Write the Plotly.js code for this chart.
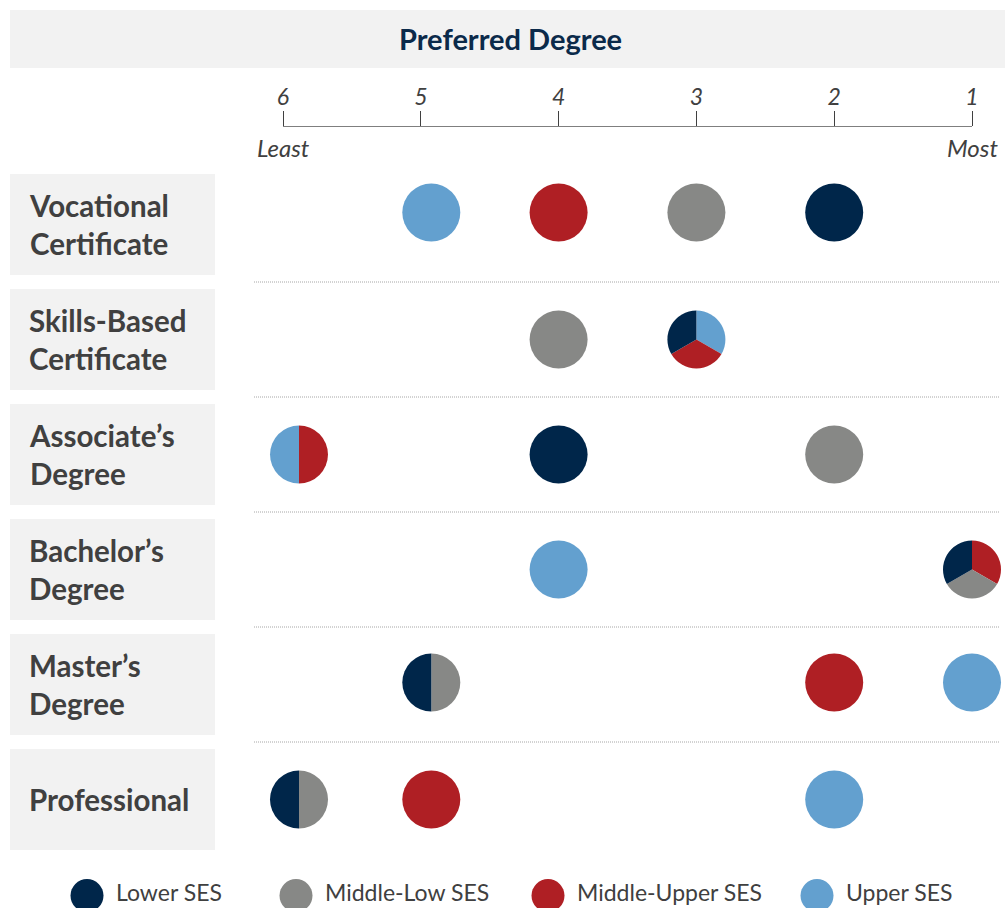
<!DOCTYPE html>
<html>
<head>
<meta charset="utf-8">
<script src="https://cdn.plot.ly/plotly-3.0.1.min.js"></script>
<style>
  html, body { margin: 0; padding: 0; background: #ffffff; }
  #chart { width: 1005px; height: 908px; }
</style>
</head>
<body>
<div id="chart"></div>
<script>
// ---------------- DATA ----------------
const degreeLabels = ["Vocational<br>Certificate", "Skills-Based<br>Certificate", "Associate’s<br>Degree",
                      "Bachelor’s<br>Degree", "Master’s<br>Degree", "Professional"];
const groupNames = ["Lower SES", "Middle-Low SES", "Middle-Upper SES", "Upper SES"];
// preference rank of each degree (1 = most preferred, 6 = least) for every SES group
const lowerSesRanks       = [2, 3, 4, 1, 5, 6];
const middleLowSesRanks   = [3, 4, 2, 1, 5, 6];
const middleUpperSesRanks = [4, 3, 6, 1, 2, 5];
const upperSesRanks       = [5, 3, 6, 4, 1, 2];
const tickValues = [6, 5, 4, 3, 2, 1];
const tickLabels = ["6", "5", "4", "3", "2", "1"];
const axisEndLabels = ["Least", "Most"];
const chartTitle = "Preferred Degree";

// ---------------- STYLE / LAYOUT CONSTANTS ----------------
const groupColors = ["#00264A", "#878886", "#AF1F24", "#63A0CF"];
const W = 1005, H = 908;
const AX_L = 283, AX_R = 972, AX_Y = 125.5;
const ROW0 = 224.5, ROW_STEP = 115;
const DOT = 58;                       // circle diameter, px
const PX_PER_RANK = (AX_R - AX_L) / 5;
const rankNudgePx = {6: 16, 5: 10.5}; // circles in the two leftmost columns sit a little to the right
const rowShiftPx = [-12, 0, 0, 0, -2, 0];
const keepOrderRows = [2];            // slice order as listed; other rows list slices reversed
const legendX = [87, 296, 548, 817];
const FONT = "Lato, 'Open Sans', sans-serif";
const TEXT = "#404040";

const allRanks = [lowerSesRanks, middleLowSesRanks, middleUpperSesRanks, upperSesRanks];
const xPos = r => r - (rankNudgePx[r] || 0) / PX_PER_RANK;
const yPos = i => i + rowShiftPx[i] / ROW_STEP;
const yRange = [(H - ROW0) / ROW_STEP, -ROW0 / ROW_STEP];
const xPaper = v => (AX_L + (6 - v) * PX_PER_RANK) / W;
const yPaper = v => 1 - (ROW0 + v * ROW_STEP) / H;

// ---------------- TRACES ----------------
const traces = [];
const single = groupNames.map(() => ({x: [], y: []}));
const pies = [];
degreeLabels.forEach((d, i) => {
  [1, 2, 3, 4, 5, 6].forEach(r => {
    const members = [];
    allRanks.forEach((arr, g) => { if (arr[i] === r) members.push(g); });
    if (members.length === 1) {
      single[members[0]].x.push(xPos(r));
      single[members[0]].y.push(yPos(i));
    } else if (members.length > 1) {
      pies.push({row: i, rank: r, members: keepOrderRows.includes(i) ? members : members.slice().reverse()});
    }
  });
});

groupNames.forEach((g, k) => {
  traces.push({
    type: "scatter", mode: "markers", name: g,
    x: single[k].x, y: single[k].y, xaxis: "x", yaxis: "y",
    cliponaxis: false, hoverinfo: "skip", showlegend: false,
    marker: {size: DOT, color: groupColors[k], line: {width: 0}}
  });
});

pies.forEach(p => {
  const cx = xPaper(xPos(p.rank)), cy = yPaper(yPos(p.row));
  const hw = DOT / 2 / W, hh = DOT / 2 / H;
  traces.push({
    type: "pie", values: p.members.map(() => 1), labels: p.members.map(m => groupNames[m]),
    sort: false, direction: "clockwise",
    rotation: 0, textinfo: "none", hoverinfo: "skip", showlegend: false,
    marker: {colors: p.members.map(m => groupColors[m]), line: {width: 0}},
    domain: {x: [cx - hw, cx + hw], y: [cy - hh, cy + hh]}
  });
});

// legend (drawn in a pixel-space overlay axis)
traces.push({
  type: "scatter", mode: "markers", x: legendX, y: groupNames.map(() => 895.6),
  xaxis: "x2", yaxis: "y2", cliponaxis: false, hoverinfo: "skip", showlegend: false,
  marker: {size: 33, color: groupColors, line: {width: 0}}
});

// ---------------- SHAPES & ANNOTATIONS ----------------
const shapes = [];
shapes.push({type: "rect", xref: "paper", yref: "paper", x0: 10 / W, x1: 1, y0: 1 - 68 / H, y1: 1 - 10 / H,
             fillcolor: "#F2F2F2", line: {width: 0}, layer: "below"});
degreeLabels.forEach((d, i) => {
  shapes.push({type: "rect", xref: "paper", yref: "y", x0: 10 / W, x1: 215 / W,
               y0: i - 50.5 / ROW_STEP, y1: i + 50.5 / ROW_STEP,
               fillcolor: "#F2F2F2", line: {width: 0}, layer: "below"});
  if (i < degreeLabels.length - 1) {
    shapes.push({type: "line", xref: "paper", yref: "y", x0: 254 / W, x1: 1000 / W, y0: i + 0.5, y1: i + 0.5,
                 line: {color: "#A6A6A6", width: 1, dash: "1px,1px"}, layer: "below"});
  }
});

const annotations = [];
annotations.push({text: chartTitle, xref: "paper", yref: "paper", x: 510 / W, y: 1 - 39 / H,
                  showarrow: false, xanchor: "center", yanchor: "middle",
                  font: {family: FONT, size: 29, weight: 700, color: "#0B2A4A"}});
degreeLabels.forEach((d, i) => {
  annotations.push({text: d, xref: "paper", yref: "y", x: 27 / W, y: i, showarrow: false,
                    xanchor: "left", yanchor: "middle", align: "left",
                    font: {family: FONT, size: 29.5, weight: 700, color: TEXT}});
});
[6, 1].forEach((v, k) => {
  annotations.push({text: axisEndLabels[k], xref: "x", yref: "paper", x: v, y: 1 - 148 / H,
                    showarrow: false, xanchor: "center", yanchor: "middle",
                    font: {family: FONT, size: 24, style: "italic", color: TEXT}});
});
groupNames.forEach((g, k) => {
  annotations.push({text: g, xref: "x2", yref: "y2", x: legendX[k] + 27, y: 908, showarrow: false,
                    xanchor: "left", yanchor: "bottom",
                    font: {family: FONT, size: 23, color: TEXT}});
});

const layout = {
  width: W, height: H, margin: {l: 0, r: 0, t: 0, b: 0},
  paper_bgcolor: "#ffffff", plot_bgcolor: "rgba(0,0,0,0)", showlegend: false,
  xaxis: {domain: [AX_L / W, AX_R / W], range: [6, 1], anchor: "free", position: 1 - AX_Y / H,
          side: "top", showline: true, linecolor: "#7F7F7F", linewidth: 1.5,
          ticks: "outside", ticklen: 15, tickwidth: 1, tickcolor: "#404040",
          tickvals: tickValues, ticktext: tickLabels, ticklabelstandoff: -4,
          tickfont: {family: FONT, size: 23, style: "italic", color: TEXT},
          showgrid: false, zeroline: false, fixedrange: true},
  yaxis: {domain: [0, 1], range: yRange, visible: false, fixedrange: true},
  xaxis2: {domain: [0, 1], range: [0, W], anchor: "y2", visible: false, fixedrange: true},
  yaxis2: {domain: [0, 1], range: [H, 0], anchor: "x2", visible: false, fixedrange: true},
  shapes, annotations
};

Plotly.newPlot("chart", traces, layout, {displayModeBar: false, staticPlot: true});
</script>
</body>
</html>
